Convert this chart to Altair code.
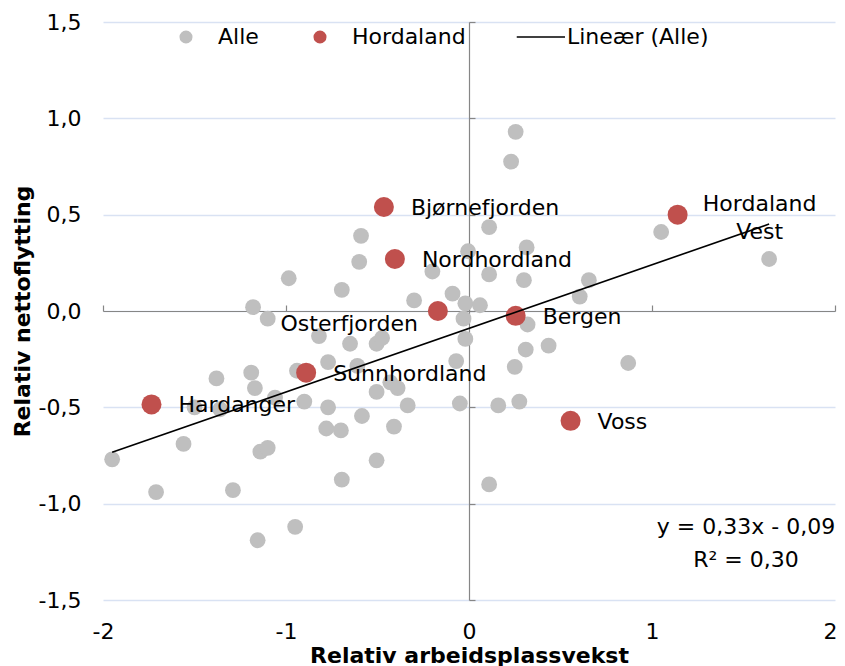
import altair as alt
import pandas as pd

# ---------------- data ----------------
alle_x = [0.255, 0.23, 0.11, 0.315, -0.005, -0.59, -0.60, -0.985, -0.20, 0.11,
          0.30, 0.655, 0.605, 1.05, 1.64, -0.695, -0.30, -0.09, -0.02, 0.06,
          -0.03, -1.18, -1.10, -0.82, -0.65, -0.505, -0.475, -0.02, 0.32, 0.31,
          0.435, -0.07, 0.25, 0.87, -0.61, -0.77, -0.94, -1.19, -1.38, -1.17,
          -1.06, -0.505, -0.43, -0.39, -0.335, -0.90, -0.77, -0.78, -0.70, -0.585,
          -0.41, -0.05, 0.16, 0.275, 0.11, -0.505, -0.695, -1.95, -1.56, -1.14,
          -1.10, -1.71, -1.29, -0.95, -1.155, -1.50, -1.36]
alle_y = [0.93, 0.775, 0.435, 0.33, 0.31, 0.39, 0.255, 0.17, 0.205, 0.19,
          0.16, 0.16, 0.075, 0.41, 0.27, 0.11, 0.055, 0.09, 0.04, 0.03,
          -0.04, 0.02, -0.04, -0.13, -0.17, -0.17, -0.14, -0.145, -0.07, -0.20,
          -0.18, -0.26, -0.29, -0.27, -0.285, -0.265, -0.31, -0.32, -0.35, -0.40,
          -0.45, -0.42, -0.37, -0.40, -0.49, -0.47, -0.50, -0.61, -0.62, -0.545,
          -0.60, -0.48, -0.49, -0.47, -0.90, -0.775, -0.875, -0.77, -0.69, -0.73,
          -0.71, -0.94, -0.93, -1.12, -1.19, -0.50, -0.51]

hord_names = ["Bjørnefjorden", "Nordhordland", "Osterfjorden", "Bergen",
              "Sunnhordland", "Hardanger", "Voss", "Hordaland Vest"]
hord_x = [-0.465, -0.405, -0.17, 0.255, -0.89, -1.735, 0.555, 1.14]
hord_y = [0.54, 0.27, 0.0, -0.025, -0.32, -0.485, -0.57, 0.50]

series = ["Alle", "Hordaland", "Lineær (Alle)"]
series_colors = ["#BFBFBF", "#C0504D", "#000000"]

x_ticks = [-2, -1, 0, 1, 2]
y_ticks = [-1.5, -1.0, -0.5, 0.0, 0.5, 1.0, 1.5]

slope, intercept, r2 = 0.33, -0.09, 0.30

# ---------------- styling ----------------
FONT = "DejaVu Sans"
FS = 22
W, H = 732, 578
AXIS_GREY = "#868686"
GRID = "#D9E2F3"
LINE_PATH = "M-2.8,-0.12H4.6V0.12H-2.8Z"

df_alle = pd.DataFrame({"x": alle_x, "y": alle_y, "serie": "Alle"})
df_hord = pd.DataFrame({"x": hord_x, "y": hord_y, "navn": hord_names, "serie": "Hordaland"})
xmin = min(alle_x + hord_x)
xmax = max(alle_x + hord_x)
df_line = pd.DataFrame({"x": [xmin, xmax],
                        "y": [slope * xmin + intercept, slope * xmax + intercept]})


def dec(v):
    return f"{v:.2f}".replace(".", ",")


eq_text = f"y = {dec(slope)}x {'-' if intercept < 0 else '+'} {dec(abs(intercept))}\nR² = {dec(r2)}"
df_eq = pd.DataFrame({"t": [eq_text]})

xs = alt.Scale(domain=[-2, 2], nice=False, zero=False)
ys = alt.Scale(domain=[-1.5, 1.5], nice=False, zero=False)

y_label_expr = "(datum.value < 0 ? '-' : '') + replace(format(abs(datum.value), '.1f'), '.', ',')"
x_label_expr = "(datum.value < 0 ? '-' : '') + format(abs(datum.value), 'd')"
x_last = f"datum.value == {x_ticks[-1]}"

legend = alt.Legend(orient="none", legendX=72, legendY=4, direction="horizontal",
                    title=None, labelFont=FONT, labelFontSize=FS, labelColor="#000000",
                    symbolSize=170, symbolStrokeWidth=0, symbolOpacity=1,
                    labelOffset=21, columnPadding=50, padding=0)

color = alt.Color("serie:N", scale=alt.Scale(domain=series, range=series_colors), legend=legend)
shape = alt.Shape("serie:N", scale=alt.Scale(domain=series, range=["circle", "circle", LINE_PATH]),
                  legend=legend)

# main layer: grey points + outer labelled axes + gridlines
x_outer = alt.Axis(title="Relativ arbeidsplassvekst", values=x_ticks, labelExpr=x_label_expr,
                   domain=False, ticks=False, tickSize=0, grid=False, labelPadding=21,
                   labelFlush=False,
                   labelAlign={"condition": {"test": x_last, "value": "right"}, "value": "center"},
                   labelOffset={"condition": {"test": x_last, "value": 2}, "value": 0},
                   labelFont=FONT, labelFontSize=FS, labelColor="#000000",
                   titleFont=FONT, titleFontSize=FS, titleFontWeight="bold", titleColor="#000000",
                   titleY=55, titleBaseline="middle")
y_outer = alt.Axis(title="Relativ nettoflytting", values=y_ticks, labelExpr=y_label_expr,
                   domain=False, ticks=False, tickSize=0, grid=True, gridColor=GRID, gridWidth=1.5,
                   labelFlush=False,
                   labelPadding=22, labelFont=FONT, labelFontSize=FS, labelColor="#000000",
                   titleFont=FONT, titleFontSize=FS, titleFontWeight="bold", titleColor="#000000",
                   titleX=-81, titleY=H / 2, titleAngle=-90, titleBaseline="middle", titleAlign="center")

pts_alle = alt.Chart(df_alle).mark_point(filled=True, size=250, opacity=1, strokeWidth=0).encode(
    x=alt.X("x:Q", scale=xs, axis=x_outer),
    y=alt.Y("y:Q", scale=ys, axis=y_outer),
    color=color, shape=shape)

# red points + the cross axes through zero
x_cross = alt.Axis(title=None, values=x_ticks, labels=False, grid=False, domain=True,
                   domainColor=AXIS_GREY, domainWidth=1.2, ticks=True, tickColor=AXIS_GREY,
                   tickWidth=1.2, tickSize=6, offset=-H / 2)
y_cross = alt.Axis(title=None, values=y_ticks, labels=False, grid=False, domain=True,
                   domainColor=AXIS_GREY, domainWidth=1.2, ticks=True, tickColor=AXIS_GREY,
                   tickWidth=1.2, tickSize=6, offset=-W / 2)

pts_hord = alt.Chart(df_hord).mark_point(filled=True, size=400, opacity=1, strokeWidth=0).encode(
    x=alt.X("x:Q", scale=xs, axis=x_cross),
    y=alt.Y("y:Q", scale=ys, axis=y_cross),
    color=color, shape=shape)

trend = alt.Chart(df_line).mark_line(color="#000000", strokeWidth=1.6).encode(
    x=alt.X("x:Q", scale=xs, axis=None),
    y=alt.Y("y:Q", scale=ys, axis=None))

txt = dict(font=FONT, fontSize=FS, color="#000000", baseline="middle")
right_names = ["Bjørnefjorden", "Nordhordland", "Bergen", "Sunnhordland", "Hardanger", "Voss"]

lab_right = alt.Chart(df_hord).transform_filter(
    alt.FieldOneOfPredicate(field="navn", oneOf=right_names)
).mark_text(align="left", dx=27, dy=1, **txt).encode(
    x=alt.X("x:Q", scale=xs, axis=None), y=alt.Y("y:Q", scale=ys, axis=None), text="navn:N")

lab_oster = alt.Chart(df_hord).transform_filter(
    alt.FieldEqualPredicate(field="navn", equal="Osterfjorden")
).mark_text(align="right", dx=-20, dy=13, **txt).encode(
    x=alt.X("x:Q", scale=xs, axis=None), y=alt.Y("y:Q", scale=ys, axis=None), text="navn:N")

lab_vest = alt.Chart(df_hord).transform_filter(
    alt.FieldEqualPredicate(field="navn", equal="Hordaland Vest")
).mark_text(align="center", dx=82, dy=-11, lineBreak=" ", lineHeight=28, **txt).encode(
    x=alt.X("x:Q", scale=xs, axis=None), y=alt.Y("y:Q", scale=ys, axis=None), text="navn:N")

eq = alt.Chart(df_eq).mark_text(align="center", lineBreak="\n", lineHeight=33, **txt).encode(
    x=alt.value(W - 89), y=alt.value(H - 73), text="t:N")

chart = alt.layer(pts_alle, pts_hord, trend, lab_right, lab_oster, lab_vest, eq).resolve_axis(
    x="independent", y="independent"
).properties(
    width=W, height=H,
    autosize=alt.AutoSizeParams(type="none"),
    padding={"left": 95, "top": 14, "right": 2, "bottom": 66},
    background="#FFFFFF",
).configure_view(stroke=None)

chart.save("out.html", embed_options={"renderer": "svg", "actions": False})
